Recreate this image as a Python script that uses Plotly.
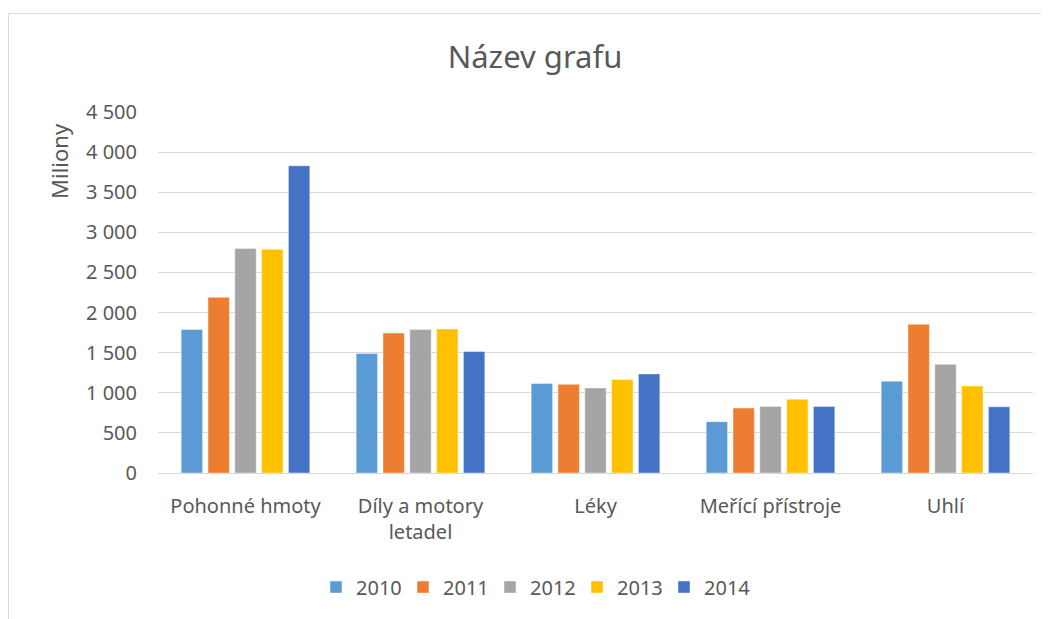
import plotly.graph_objects as go

categories = ["Pohonné hmoty", "Díly a motory<br>letadel", "Léky", "Meřící přístroje", "Uhlí"]
years = ["2010", "2011", "2012", "2013", "2014"]
values_2010 = [1790, 1490, 1115, 640, 1145]
values_2011 = [2190, 1745, 1105, 810, 1855]
values_2012 = [2800, 1790, 1060, 830, 1355]
values_2013 = [2790, 1795, 1165, 920, 1085]
values_2014 = [3830, 1515, 1235, 830, 825]
series = [values_2010, values_2011, values_2012, values_2013, values_2014]
colors = ["#5B9BD5", "#ED7D31", "#A5A5A5", "#FFC000", "#4472C4"]

FONT = "Noto Sans"
GRAY = "#595959"

# page has an 8px body margin; work in page pixel coordinates and convert
OFF = 8
PAGE_W, PAGE_H = 1049, 619
W, H = PAGE_W - OFF, PAGE_H - OFF
plot_left, plot_right, plot_top, plot_bottom = 158, 1033, 112, 473  # page coords
L = plot_left - OFF
R = W - (plot_right - OFF)
T = plot_top - OFF
B = H - (plot_bottom - OFF)
pw = W - L - R
ph = H - T - B

def px_x(x):
    return (x - plot_left) / pw

def px_y(y):
    return (plot_bottom - y) / ph

fig = go.Figure()
for name, vals, col in zip(years, series, colors):
    fig.add_trace(go.Bar(
        x=categories, y=vals, name=name,
        marker=dict(color=col, line=dict(color="rgba(255,255,255,0.6)", width=0.75)),
    ))

fig.update_layout(
    width=W, height=H,
    margin=dict(l=L, r=R, t=T, b=B, autoexpand=False),
    paper_bgcolor="white", plot_bgcolor="white",
    barmode="group", bargap=0.234, bargroupgap=0.2,
    separators=", ",
    font=dict(family=FONT, color=GRAY, size=20),
    title=dict(text="Název grafu", x=(535 - OFF) / W, xref="container", xanchor="center",
               y=1 - (57 - OFF) / H, yref="container", yanchor="middle",
               font=dict(family=FONT, size=31, color=GRAY)),
    showlegend=True,
    legend=dict(orientation="h", x=px_x(316), xanchor="left", y=px_y(587), yanchor="middle",
                entrywidth=42, entrywidthmode="pixels",
                font=dict(family=FONT, size=20, color=GRAY), traceorder="normal"),
    xaxis=dict(showgrid=False, showline=True, linecolor="#D9D9D9", linewidth=1,
               ticks="", ticklabelstandoff=15, tickfont=dict(size=20, color=GRAY)),
    yaxis=dict(range=[0, 4500], dtick=500, tickformat=",d", showgrid=True,
               gridcolor="#D9D9D9", gridwidth=1, zeroline=False, showline=False,
               ticks="", ticklabelstandoff=20, tickfont=dict(size=20, color=GRAY)),
    annotations=[dict(text="Miliony", xref="paper", yref="paper", x=px_x(59), y=px_y(161),
                      xanchor="center", yanchor="middle", textangle=-90, showarrow=False,
                      font=dict(family=FONT, size=22, color=GRAY))],
    shapes=[dict(type="rect", xref="paper", yref="paper", x0=px_x(8.5), y0=px_y(700),
                 x1=px_x(1100), y1=px_y(13.5), line=dict(color="#D9D9D9", width=1),
                 fillcolor="rgba(0,0,0,0)", layer="below")],
)

fig.write_html("out.html")
